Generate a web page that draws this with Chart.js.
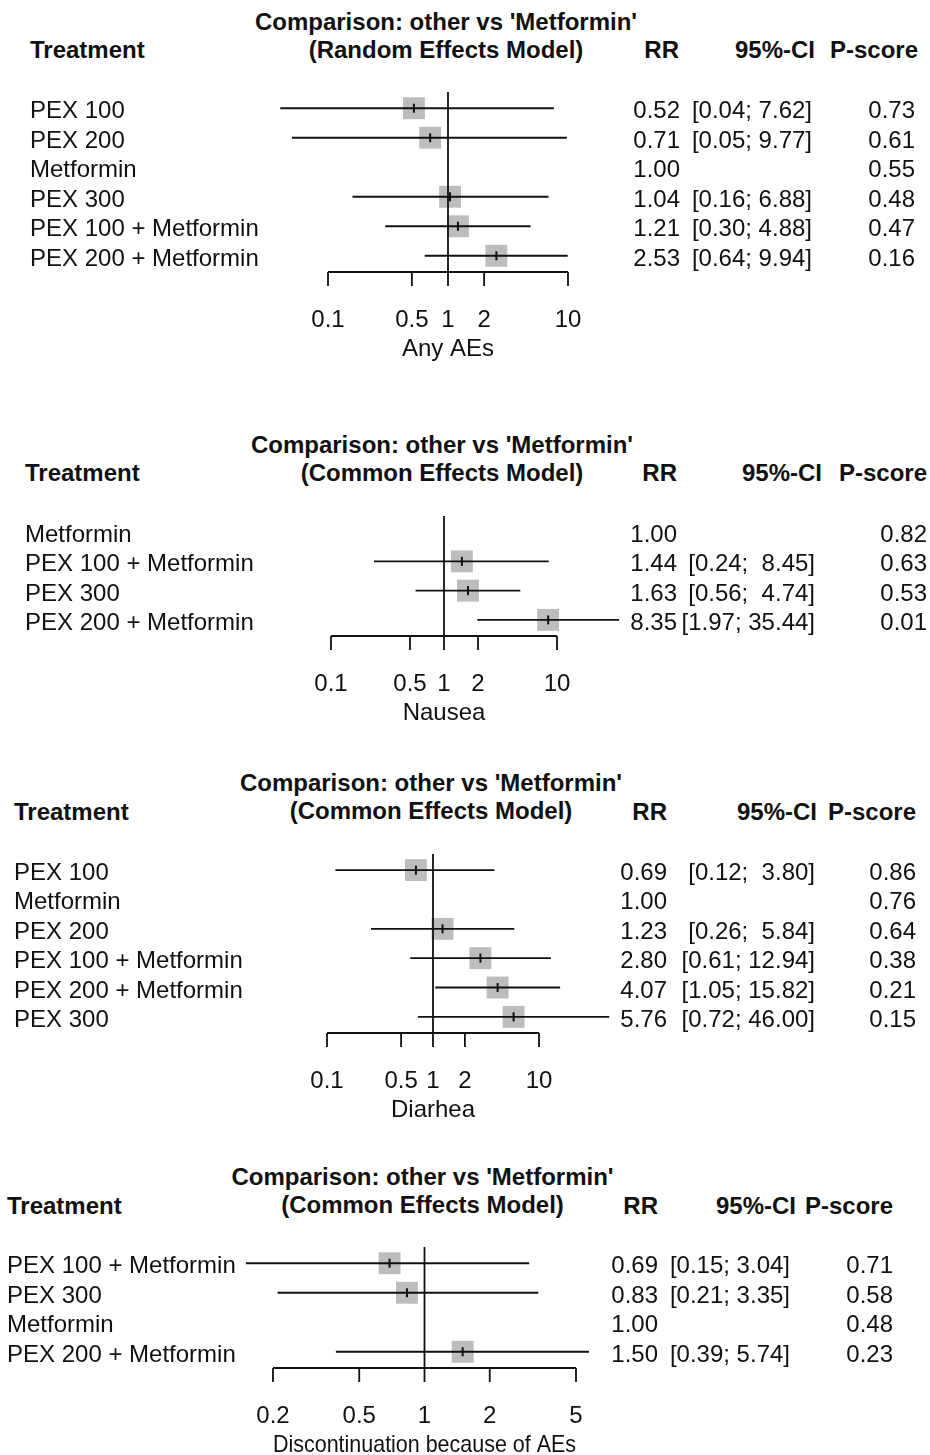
<!DOCTYPE html>
<html>
<head>
<meta charset="utf-8">
<script src="https://cdn.jsdelivr.net/npm/chart.js@4.4.1/dist/chart.umd.min.js"></script>
<style>
html,body{margin:0;padding:0;background:#fff;}
#page{position:relative;width:930px;height:1455px;overflow:hidden;font-family:"Liberation Sans",Arial,sans-serif;color:#111;}
.t{position:absolute;font-size:24px;line-height:28px;white-space:pre;z-index:2;}
.b{font-weight:bold;}
canvas{position:absolute;left:0;z-index:1;}
</style>
</head>
<body>
<div id="page"></div>
<script>
// ---------- DATA ----------
const comparisonTitle = "Comparison: other vs 'Metformin'";
const colHeaders = ["Treatment", "RR", "95%-CI", "P-score"];

// Panel 1: Any AEs (Random Effects Model)
const p1Model = "Random Effects Model";
const p1AxisTitle = "Any AEs";
const p1Treatments = ["PEX 100", "PEX 200", "Metformin", "PEX 300", "PEX 100 + Metformin", "PEX 200 + Metformin"];
const p1RR     = [0.52, 0.71, 1.00, 1.04, 1.21, 2.53];
const p1Lower  = [0.04, 0.05, null, 0.16, 0.30, 0.64];
const p1Upper  = [7.62, 9.77, null, 6.88, 4.88, 9.94];
const p1Pscore = [0.73, 0.61, 0.55, 0.48, 0.47, 0.16];
const p1Ticks  = [0.1, 0.5, 1, 2, 10];

// Panel 2: Nausea (Common Effects Model)
const p2Model = "Common Effects Model";
const p2AxisTitle = "Nausea";
const p2Treatments = ["Metformin", "PEX 100 + Metformin", "PEX 300", "PEX 200 + Metformin"];
const p2RR     = [1.00, 1.44, 1.63, 8.35];
const p2Lower  = [null, 0.24, 0.56, 1.97];
const p2Upper  = [null, 8.45, 4.74, 35.44];
const p2Pscore = [0.82, 0.63, 0.53, 0.01];
const p2Ticks  = [0.1, 0.5, 1, 2, 10];

// Panel 3: Diarhea (Common Effects Model)
const p3Model = "Common Effects Model";
const p3AxisTitle = "Diarhea";
const p3Treatments = ["PEX 100", "Metformin", "PEX 200", "PEX 100 + Metformin", "PEX 200 + Metformin", "PEX 300"];
const p3RR     = [0.69, 1.00, 1.23, 2.80, 4.07, 5.76];
const p3Lower  = [0.12, null, 0.26, 0.61, 1.05, 0.72];
const p3Upper  = [3.80, null, 5.84, 12.94, 15.82, 46.00];
const p3Pscore = [0.86, 0.76, 0.64, 0.38, 0.21, 0.15];
const p3Ticks  = [0.1, 0.5, 1, 2, 10];

// Panel 4: Discontinuation because of AEs (Common Effects Model)
const p4Model = "Common Effects Model";
const p4AxisTitle = "Discontinuation because of AEs";
const p4Treatments = ["PEX 100 + Metformin", "PEX 300", "Metformin", "PEX 200 + Metformin"];
const p4RR     = [0.69, 0.83, 1.00, 1.50];
const p4Lower  = [0.15, 0.21, null, 0.39];
const p4Upper  = [3.04, 3.35, null, 5.74];
const p4Pscore = [0.71, 0.58, 0.48, 0.23];
const p4Ticks  = [0.2, 0.5, 1, 2, 5];

const nullEffect = 1;

// ---------- LAYOUT (positions / styles only) ----------
const layouts = [
  {refTop: 92,   axisY: 272,  xLo: 328, xHi: 568, labelX: 30, titleY: 22,   headY: 50,   rrR: 680, ciR: 812, psR: 915, hRR: 679, hCI: 815, hPS: 918},
  {refTop: 516,  axisY: 636,  xLo: 331, xHi: 557, labelX: 25, titleY: 445,  headY: 473,  rrR: 677, ciR: 815, psR: 927, hRR: 677, hCI: 822, hPS: 927},
  {refTop: 854,  axisY: 1033, xLo: 327, xHi: 539, labelX: 14, titleY: 783,  headY: 812,  rrR: 667, ciR: 815, psR: 916, hRR: 667, hCI: 817, hPS: 916},
  {refTop: 1247, axisY: 1368, xLo: 273, xHi: 576, labelX: 7,  titleY: 1177, headY: 1206, rrR: 658, ciR: 790, psR: 893, hRR: 658, hCI: 796, hPS: 893}
];

const panels = [
  {model: p1Model, axisTitle: p1AxisTitle, treat: p1Treatments, rr: p1RR, lo: p1Lower, hi: p1Upper, ps: p1Pscore, ticks: p1Ticks},
  {model: p2Model, axisTitle: p2AxisTitle, treat: p2Treatments, rr: p2RR, lo: p2Lower, hi: p2Upper, ps: p2Pscore, ticks: p2Ticks},
  {model: p3Model, axisTitle: p3AxisTitle, treat: p3Treatments, rr: p3RR, lo: p3Lower, hi: p3Upper, ps: p3Pscore, ticks: p3Ticks},
  {model: p4Model, axisTitle: p4AxisTitle, treat: p4Treatments, rr: p4RR, lo: p4Lower, hi: p4Upper, ps: p4Pscore, ticks: p4Ticks}
];

const Y_PAD_TOP = 0.55, Y_PAD_BOTTOM = 0.45;
const LINE_W = 1.8;
const FONT = "'Liberation Sans', Arial, sans-serif";
Chart.defaults.font.family = FONT;
Chart.defaults.color = '#111';

const page = document.getElementById('page');

function addText(txt, x, yCenter, cls, alignRight) {
  const d = document.createElement('div');
  d.className = 't ' + (cls || '');
  d.textContent = txt;
  d.style.top = (yCenter - 14) + 'px';
  if (alignRight) { d.style.right = (930 - x) + 'px'; d.style.textAlign = 'right'; }
  else d.style.left = x + 'px';
  page.appendChild(d);
  return d;
}

const axisPlugin = {
  id: 'forestAxis',
  afterDatasetsDraw(chart) {
    const {ctx, chartArea} = chart;
    const xs = chart.scales.x;
    const px = xs.ticks.map(t => xs.getPixelForValue(t.value));
    const y = chartArea.bottom;
    ctx.save();
    ctx.strokeStyle = '#111';
    ctx.lineWidth = LINE_W;
    ctx.beginPath();
    ctx.moveTo(px[0], y);
    ctx.lineTo(px[px.length - 1], y);
    px.forEach(p => { ctx.moveTo(p, y); ctx.lineTo(p, y + 14); });
    ctx.stroke();
    ctx.restore();
  }
};

panels.forEach((P, k) => {
  const L = layouts[k];
  const n = P.treat.length;
  const SCALE_H = 34 + 28.8 + 28.8;
  const canvasH = Math.round(L.axisY - L.refTop + SCALE_H + 6);
  const cv = document.createElement('canvas');
  cv.width = 930; cv.height = canvasH;
  cv.style.top = L.refTop + 'px';
  cv.style.width = '930px'; cv.style.height = canvasH + 'px';
  page.appendChild(cv);

  const datasets = [];
  // CI lines
  P.rr.forEach((v, i) => {
    if (P.lo[i] == null) return;
    datasets.push({
      type: 'line', data: [{x: P.lo[i], y: i}, {x: P.hi[i], y: i}],
      borderColor: '#111', borderWidth: LINE_W, pointRadius: 0, clip: false, order: 2
    });
  });
  // Reference line at RR = 1
  datasets.push({
    type: 'line', data: [{x: nullEffect, y: -Y_PAD_TOP}, {x: nullEffect, y: n - Y_PAD_BOTTOM}],
    borderColor: '#111', borderWidth: LINE_W, pointRadius: 0, clip: false, order: 2
  });
  // Squares
  const est = P.rr.map((v, i) => ({x: v, y: i})).filter((d, i) => P.lo[i] != null);
  datasets.push({
    type: 'scatter', data: est, pointStyle: 'rect', pointRadius: 15.5,
    backgroundColor: '#bdbdbd', borderWidth: 0, clip: false, order: 3
  });
  // Estimate ticks
  datasets.push({
    type: 'scatter', data: est, pointStyle: 'line', pointRotation: 90, pointRadius: 4.5,
    borderColor: '#111', borderWidth: 2, clip: false, order: 1
  });

  const chart = new Chart(cv, {
    type: 'scatter',
    data: {datasets},
    options: {
      responsive: false, animation: false, events: [],
      plugins: {legend: {display: false}, tooltip: {enabled: false}},
      layout: {autoPadding: false,
               padding: {left: L.xLo, right: 930 - L.xHi, top: 0, bottom: canvasH - (L.axisY - L.refTop) - SCALE_H}},
      scales: {
        x: {
          type: 'logarithmic', min: P.ticks[0], max: P.ticks[P.ticks.length - 1],
          afterBuildTicks: ax => { ax.ticks = P.ticks.map(v => ({value: v})); },
          grid: {display: false, drawTicks: true, tickLength: 34},
          border: {display: false},
          ticks: {padding: 0, autoSkip: false, maxRotation: 0, minRotation: 0, color: '#111',
                  font: {size: 24, lineHeight: 1.2}, callback: v => String(v)},
          title: {display: true, text: P.axisTitle, color: '#111', font: {size: 24, lineHeight: 1.2}, padding: {top: 0, bottom: 0}}
        },
        y: {type: 'linear', display: false, reverse: true, min: -Y_PAD_TOP, max: n - Y_PAD_BOTTOM}
      }
    },
    plugins: [axisPlugin]
  });

  const ys = chart.scales.y, xs = chart.scales.x;
  const cTop = L.refTop;
  const xOne = xs.getPixelForValue(nullEffect);

  // Title (two centred lines)
  const ttl = document.createElement('div');
  ttl.className = 't b';
  ttl.style.textAlign = 'center';
  ttl.style.width = '600px';
  ttl.style.left = (xOne - 2 - 300) + 'px';
  ttl.style.top = (L.titleY - 14) + 'px';
  ttl.textContent = comparisonTitle + '\n(' + P.model + ')';
  page.appendChild(ttl);

  // Headers
  addText(colHeaders[0], L.labelX, L.headY, 'b', false);
  addText(colHeaders[1], L.hRR, L.headY, 'b', true);
  addText(colHeaders[2], L.hCI, L.headY, 'b', true);
  addText(colHeaders[3], L.hPS, L.headY, 'b', true);

  // Rows
  const hiW = Math.max(...P.hi.filter(v => v != null).map(v => v.toFixed(2).length));
  P.treat.forEach((name, i) => {
    const yc = cTop + ys.getPixelForValue(i) + 2;
    addText(name, L.labelX, yc, '', false);
    addText(P.rr[i].toFixed(2), L.rrR, yc, '', true);
    if (P.lo[i] != null) {
      addText('[' + P.lo[i].toFixed(2) + '; ' + P.hi[i].toFixed(2).padStart(hiW, ' ') + ']', L.ciR, yc, '', true);
    }
    addText(P.ps[i].toFixed(2), L.psR, yc, '', true);
  });
});
</script>
</body>
</html>
